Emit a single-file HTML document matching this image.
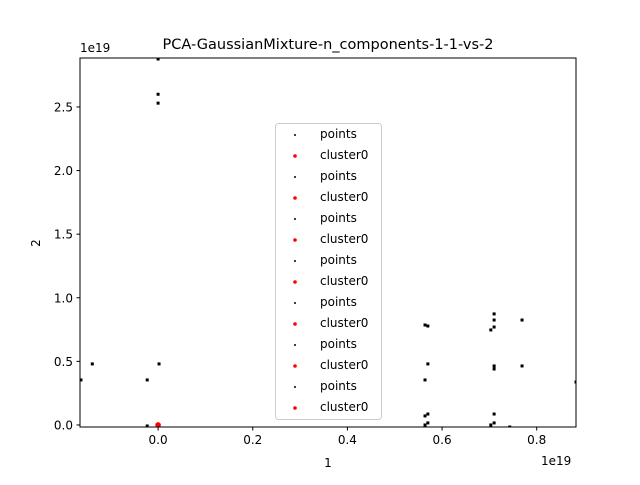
<!DOCTYPE html>
<html><head><meta charset="utf-8"><style>
body{margin:0;background:#fff;}
svg text{font-family:"DejaVu Sans","Liberation Sans",sans-serif;}
</style></head><body>
<svg id="chart" width="640" height="480" xmlns="http://www.w3.org/2000/svg"></svg>
<script>
// values in units of 1e19
const pointsX = [0, 0, 0, 0.564, 0.570, 0.570, 0.564, 0.564, 0.570, 0.570, 0.564, 0.710, 0.710, 0.710, 0.703, 0.710, 0.710, 0.769, 0.769, 0.710, 0.710, 0.703, 0.743, 0.883, -0.139, -0.163, -0.023, 0.002, -0.023];
const pointsY = [2.877, 2.60, 2.53, 0.786, 0.778, 0.48, 0.354, 0.071, 0.086, 0.016, 0.0, 0.873, 0.825, 0.770, 0.747, 0.464, 0.44, 0.825, 0.464, 0.086, 0.016, 0.0, -0.016, 0.338, 0.48, 0.354, 0.354, 0.48, -0.008];
const clusterX = [0];
const clusterY = [0];
const xTicks = [0, 0.2, 0.4, 0.6, 0.8];
const xTickLabels = ["0.0", "0.2", "0.4", "0.6", "0.8"];
const yTicks = [0, 0.5, 1.0, 1.5, 2.0, 2.5];
const yTickLabels = ["0.0", "0.5", "1.0", "1.5", "2.0", "2.5"];
const legendLabels = ["points","cluster0","points","cluster0","points","cluster0","points","cluster0","points","cluster0","points","cluster0","points","cluster0"];

const svg = document.getElementById('chart');
const NS = 'http://www.w3.org/2000/svg';
const L = 80, R = 576, T = 58, B = 427;
const xMin = -0.165, xMax = 0.883, yMin = -0.016, yMax = 2.885;
const sx = v => L + (v - xMin) / (xMax - xMin) * (R - L);
const sy = v => B - (v - yMin) / (yMax - yMin) * (B - T);
function mk(tag, attrs, parent) {
  const e = document.createElementNS(NS, tag);
  for (const k in attrs) e.setAttribute(k, attrs[k]);
  (parent || svg).appendChild(e);
  return e;
}
const clip = mk('clipPath', {id: 'plotclip'});
mk('rect', {x: L, y: T, width: R - L, height: B - T}, clip);

const pts = mk('g', {'clip-path': 'url(#plotclip)'});


pointsX.forEach((v, i) => {
  const r = mk('rect', {x: sx(v) - 1.5, y: sy(pointsY[i]) - 1.5, width: 3, height: 3, fill: '#000'}, pts);
  
  
});
const cl = mk('g', {'clip-path': 'url(#plotclip)'});


clusterX.forEach((v, i) => {
  const c = mk('circle', {cx: sx(v), cy: sy(clusterY[i]), r: 2.8, fill: '#ff0000'}, cl);
  
  
});

const frame = mk('rect', {x: L, y: T, width: R - L, height: B - T, fill: 'none', stroke: '#000', 'stroke-width': 1});



xTicks.forEach((v, i) => {
  const x = sx(v);
  mk('line', {x1: x, x2: x, y1: B, y2: B + 3.5, stroke: '#000'});
  const t = mk('text', {x: x, y: B + 17, 'font-size': 12, 'text-anchor': 'middle'});
  t.textContent = xTickLabels[i];
  
  
});
yTicks.forEach((v, i) => {
  const y = sy(v);
  mk('line', {x1: L, x2: L - 3.5, y1: y, y2: y, stroke: '#000'});
  const t = mk('text', {x: L - 7, y: y + 4.5, 'font-size': 12, 'text-anchor': 'end'});
  t.textContent = yTickLabels[i];
  
  
});

function txt(s, attrs, name) {
  const t = mk('text', attrs);
  t.textContent = s;
  
  
}
txt('PCA-GaussianMixture-n_components-1-1-vs-2', {x: 328, y: 49, 'font-size': 14.5, 'text-anchor': 'middle'}, 'chart-title');
txt('1e19', {x: 80, y: 52, 'font-size': 12}, 'y-axis-offset');
txt('1e19', {x: 541, y: 465, 'font-size': 12}, 'x-axis-offset');
txt('1', {x: 328, y: 467, 'font-size': 12, 'text-anchor': 'middle'}, 'x-axis-title');
txt('2', {x: 40, y: 243, 'font-size': 12, 'text-anchor': 'middle', transform: 'rotate(-90 40 243)'}, 'y-axis-title');

const lg = mk('g', {});


mk('rect', {x: 275.5, y: 123.5, width: 106, height: 296, rx: 3, fill: '#fff', 'fill-opacity': 0.8, stroke: '#ccc'}, lg);
legendLabels.forEach((s, i) => {
  const y = 133.5 + i * 21;
  const red = s !== 'points';
  const m = mk('circle', {cx: 295, cy: y + 1.5, r: red ? 1.8 : 1, fill: red ? '#ff0000' : '#000'}, lg);
  
  
  const t = mk('text', {x: 320, y: y + 4.5, 'font-size': 12}, lg);
  t.textContent = s;
  
  
});
</script>
</body></html>
